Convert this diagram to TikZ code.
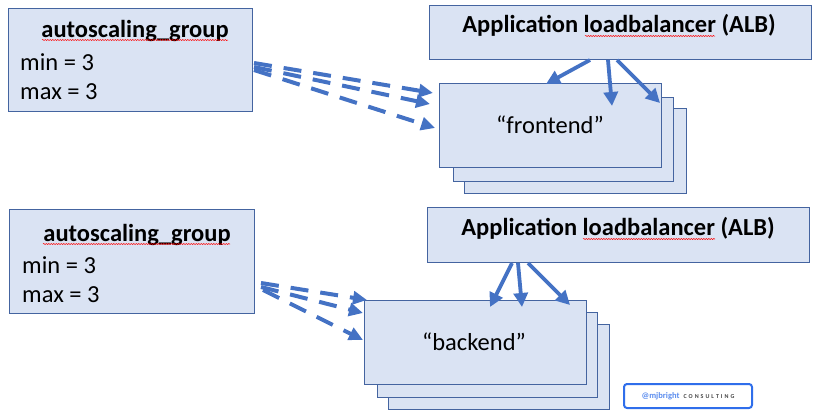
\documentclass[tikz,border=0pt]{standalone}
\usepackage{fontspec}
\setmainfont{Carlito}
\usetikzlibrary{arrows.meta,decorations.pathmorphing}
\definecolor{boxfill}{HTML}{DAE3F3}
\definecolor{boxline}{RGB}{68,100,160}
\definecolor{arrowblue}{HTML}{4472C4}
\definecolor{logoblue}{HTML}{2F6EEB}
\definecolor{logotext}{HTML}{5B8DEF}
\definecolor{logogray}{HTML}{444444}
\tikzset{
  panel/.style={draw=boxline, fill=boxfill, line width=1pt, anchor=north west, inner sep=0pt},
  txt/.style={inner sep=0pt, anchor=base, font=\fontsize{24.5}{28}\selectfont},
  btxt/.style={txt, font=\fontsize{24.5}{28}\selectfont\bfseries},
  solidarrow/.style={draw=arrowblue, line width=3.8pt, -{Triangle[length=14pt,width=14pt]}},
  dasharrow/.style={draw=arrowblue, line width=4pt, dash pattern=on 18pt off 12pt, -{Triangle[length=14pt,width=13pt]}},
  squiggle/.style={draw=red, line width=0.5pt, decorate, decoration={snake, amplitude=0.6pt, segment length=2.5pt}}
}
\begin{document}
\begin{tikzpicture}[x=1pt,y=-1pt]
\useasboundingbox (0,0) rectangle (821,415);
% top group
\node[panel, minimum width=244pt, minimum height=103pt] (asg1) at (8,8) {};
\node[btxt] (asg1t) at (135,37) {autoscaling\_group};
\node[txt, anchor=base west] (asg1a) at (20,70) {min = 3};
\node[txt, anchor=base west] (asg1b) at (20,99) {max = 3};
\draw[squiggle] (42,40) -- (228,40);

\node[panel, minimum width=382pt, minimum height=54pt] (alb1) at (429,5) {};
\node[btxt] (alb1t) at (619,32) {Application loadbalancer (ALB)};
\draw[squiggle] (585,36) -- (715,36);

\node[panel, minimum width=222pt, minimum height=85pt] (fe3) at (464,108) {};
\node[panel, minimum width=220pt, minimum height=84pt] (fe2) at (453,97) {};
\node[panel, minimum width=222pt, minimum height=84pt] (fe1) at (439,83) {};
\node[txt] (fet) at (550,133) {“frontend”};

\draw[solidarrow] ([xshift=161pt]alb1.south west) -- ([shift={(107,1)}]fe1.north west);
\draw[solidarrow] ([xshift=179pt]alb1.south west) -- ([shift={(173,23)}]fe1.north west);
\draw[solidarrow] ([xshift=188pt]alb1.south west) -- ([shift={(-2,20)}]fe1.north east);

\draw[dasharrow] ([shift={(1,55)}]asg1.north east) -- ([shift={(-6,10)}]fe1.north west);
\draw[dasharrow] ([shift={(1,59)}]asg1.north east) -- ([shift={(-9,21)}]fe1.north west);
\draw[dasharrow] ([shift={(1,62)}]asg1.north east) -- ([shift={(-4,45)}]fe1.north west);

% bottom group
\node[panel, minimum width=245pt, minimum height=104pt] (asg2) at (9,209) {};
\node[btxt] (asg2t) at (137,241) {autoscaling\_group};
\node[txt, anchor=base west] (asg2a) at (22,273) {min = 3};
\node[txt, anchor=base west] (asg2b) at (22,302) {max = 3};
\draw[squiggle] (43,244) -- (230,244);

\node[panel, minimum width=382pt, minimum height=55pt] (alb2) at (427,207) {};
\node[btxt] (alb2t) at (618,235) {Application loadbalancer (ALB)};
\draw[squiggle] (583,239) -- (715,239);

\node[panel, minimum width=221pt, minimum height=85pt] (be3) at (388,324) {};
\node[panel, minimum width=220pt, minimum height=85pt] (be2) at (377,312) {};
\node[panel, minimum width=222pt, minimum height=84pt] (be1) at (364,300) {};
\node[txt] (bet) at (474,350) {“backend”};

\draw[solidarrow] ([xshift=85pt]alb2.south west) -- ([shift={(126,7)}]be1.north west);
\draw[solidarrow] ([xshift=91pt]alb2.south west) -- ([shift={(158,7)}]be1.north west);
\draw[solidarrow] ([xshift=101pt]alb2.south west) -- ([shift={(206,5)}]be1.north west);

\draw[dasharrow] ([shift={(6,74)}]asg2.north east) -- ([shift={(3,0)}]be1.north west);
\draw[dasharrow] ([shift={(6,78)}]asg2.north east) -- ([shift={(-1,13)}]be1.north west);
\draw[dasharrow] ([shift={(8,81)}]asg2.north east) -- ([shift={(-1,40)}]be1.north west);

% logo
\node[draw=logoblue, line width=2pt, rounded corners=3pt, fill=white, anchor=north west,
      minimum width=128pt, minimum height=24pt, inner sep=0pt] (logo) at (623,383) {};
\node[inner sep=0pt] (logot) at (logo.center)
  {\textcolor{logotext}{\fontsize{8.5}{9}\selectfont\bfseries @mjbright}\hspace{4pt}\textcolor{logogray}{\fontsize{6}{7}\selectfont\bfseries C\,\,O\,\,N\,\,S\,\,U\,\,L\,\,T\,\,I\,\,N\,\,G}};
\end{tikzpicture}
\end{document}
